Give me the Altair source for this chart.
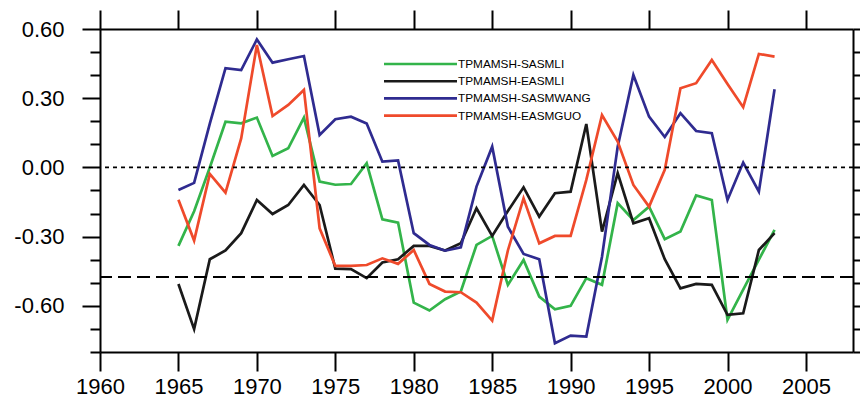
import altair as alt
import pandas as pd

years = list(range(1965, 2004))
sasmli = [-0.34, -0.19, 0.00, 0.198, 0.191, 0.216, 0.05, 0.083, 0.216, -0.061,
          -0.075, -0.072, 0.018, -0.225, -0.239, -0.586, -0.62, -0.571, -0.538, -0.336,
          -0.297, -0.509, -0.401, -0.56, -0.615, -0.60, -0.48, -0.509, -0.155, -0.228,
          -0.17, -0.311, -0.278, -0.121, -0.141, -0.661, -0.53, -0.40, -0.271]
easmli = [-0.505, -0.701, -0.398, -0.36, -0.285, -0.141, -0.202, -0.163, -0.076, -0.163,
          -0.439, -0.441, -0.48, -0.412, -0.398, -0.34, -0.34, -0.36, -0.329, -0.177,
          -0.297, -0.189, -0.086, -0.213, -0.112, -0.105, 0.188, -0.278, -0.025, -0.242,
          -0.22, -0.398, -0.524, -0.505, -0.509, -0.639, -0.632, -0.358, -0.285]
sasmwang = [-0.098, -0.067, 0.19, 0.43, 0.422, 0.555, 0.454, 0.469, 0.483, 0.141,
            0.209, 0.22, 0.19, 0.025, 0.03, -0.285, -0.336, -0.361, -0.346, -0.083,
            0.09, -0.257, -0.375, -0.398, -0.762, -0.729, -0.733, -0.387, 0.09, 0.401,
            0.22, 0.132, 0.235, 0.158, 0.148, -0.141, 0.021, -0.105, 0.339]
easmguo = [-0.14, -0.317, -0.028, -0.109, 0.126, 0.531, 0.223, 0.271, 0.336, -0.264,
           -0.427, -0.427, -0.423, -0.394, -0.418, -0.358, -0.505, -0.538, -0.541, -0.586,
           -0.664, -0.36, -0.134, -0.329, -0.297, -0.297, -0.054, 0.227, 0.112, -0.076,
           -0.17, -0.01, 0.343, 0.365, 0.466, 0.362, 0.261, 0.492, 0.48]

series_names = ["TPMAMSH-SASMLI", "TPMAMSH-EASMLI", "TPMAMSH-SASMWANG", "TPMAMSH-EASMGUO"]
series_colors = ["#33b44a", "#1a1a1a", "#2f2b90", "#ef4a2b"]
x_ticks = list(range(1960, 2006, 5))
y_ticks = [round(-0.8 + 0.1 * i, 1) for i in range(15)]
zero_level = [0.0]
sig_level = [-0.475]

rows = []
for name, vals in zip(series_names, [sasmli, easmli, sasmwang, easmguo]):
    for yr, v in zip(years, vals):
        rows.append({"year": yr, "value": v, "series": name})
df = pd.DataFrame(rows)

FONT = "Liberation Sans"
x_scale = alt.Scale(domain=[1960, 2008], nice=False, zero=False)
y_scale = alt.Scale(domain=[-0.8, 0.6], nice=False, zero=False)

major_test = "abs(round(datum.value*10)) % 3 == 0"
y_tick_size = {"condition": {"test": major_test, "value": 18}, "value": 10}
common_axis = dict(tickColor="black", tickWidth=2, domainColor="black", domainWidth=2,
                   grid=False, title=None, labelFont=FONT, labelColor="black")

x_axis_bottom = alt.Axis(orient="bottom", values=x_ticks, format="d", tickSize=19,
                         labelFontSize=22, labelPadding=5, labelFlush=False,
                         labelOverlap=False, **common_axis)
y_axis_left = alt.Axis(orient="left", values=y_ticks, tickSize=y_tick_size,
                       labelExpr=f"{major_test} ? (datum.value < -0.001 ? '-' : '') + format(abs(datum.value), '.2f') : ''",
                       labelFontSize=22, labelPadding=18, labelOverlap=False, labelFlush=False,
                       **common_axis)
x_axis_top = alt.Axis(orient="top", values=x_ticks, tickSize=19, labels=False, **common_axis)
y_axis_right = alt.Axis(orient="right", values=y_ticks, tickSize=y_tick_size, labels=False,
                        **common_axis)

lines = alt.Chart(df).mark_line(strokeWidth=2.7).encode(
    x=alt.X("year:Q", scale=x_scale, axis=x_axis_bottom),
    y=alt.Y("value:Q", scale=y_scale, axis=y_axis_left),
    color=alt.Color("series:N",
                    scale=alt.Scale(domain=series_names, range=series_colors),
                    legend=alt.Legend(title=None, orient="none", legendX=313, legendY=27.5,
                                      symbolType="M-6,0H6", symbolSize=148,
                                      symbolStrokeWidth=2.6, symbolOffset=0,
                                      labelOffset=30, labelFont=FONT, labelFontSize=11.8,
                                      labelColor="black", rowPadding=2.2, padding=0)),
)

zero_rule = alt.Chart(pd.DataFrame({"value": zero_level})).mark_rule(
    color="black", strokeWidth=1.8, strokeDash=[4, 4]
).encode(y=alt.Y("value:Q", scale=y_scale, axis=y_axis_left))

sig_rule = alt.Chart(pd.DataFrame({"value": sig_level})).mark_rule(
    color="black", strokeWidth=1.8, strokeDash=[13, 6]
).encode(y=alt.Y("value:Q", scale=y_scale, axis=y_axis_left))

main = alt.layer(lines, zero_rule, sig_rule)

mirror = alt.Chart(df).mark_point(opacity=0).encode(
    x=alt.X("year:Q", scale=x_scale, axis=x_axis_top),
    y=alt.Y("value:Q", scale=y_scale, axis=y_axis_right),
)

chart = alt.layer(main, mirror).resolve_scale(x="independent", y="independent").properties(
    width=753, height=323,
    autosize=alt.AutoSizeParams(type="none"),
    padding={"left": 100, "top": 29, "right": 7, "bottom": 55},
).configure_view(stroke=None).configure(background="white")

chart.save("out.html", embed_options={"renderer": "svg", "actions": False})
